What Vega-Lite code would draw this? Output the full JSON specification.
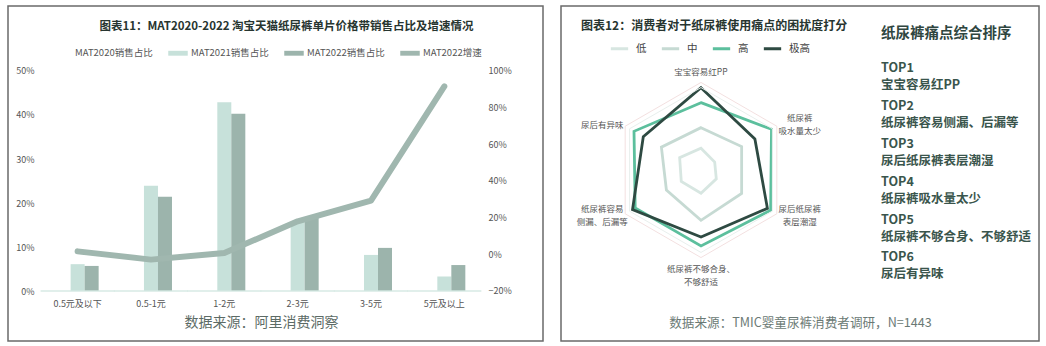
{
  "$schema": "https://vega.github.io/schema/vega-lite/v6.json",
  "padding": {"left": 7, "top": 5, "right": 0, "bottom": 0},
  "background": "white",
  "spacing": 16,
  "resolve": {"scale": {"color": "independent"}, "legend": {"color": "independent"}},
  "config": {
    "font": "Noto Sans CJK SC",
    "view": {"stroke": "#6a6a6a", "strokeWidth": 1.5},
    "axis": {"labelFont": "Noto Sans CJK SC", "titleFont": "Noto Sans CJK SC", "grid": false},
    "legend": {"labelFont": "Noto Sans CJK SC"},
    "title": {"font": "Noto Sans CJK SC"},
    "text": {"font": "Noto Sans CJK SC"}
  },
  "datasets": {
    "share": [
      {"series": "MAT2021销售占比", "cat": "0.5元及以下", "share": 0.061},
      {"series": "MAT2021销售占比", "cat": "0.5-1元", "share": 0.239},
      {"series": "MAT2021销售占比", "cat": "1-2元", "share": 0.429},
      {"series": "MAT2021销售占比", "cat": "2-3元", "share": 0.157},
      {"series": "MAT2021销售占比", "cat": "3-5元", "share": 0.082},
      {"series": "MAT2021销售占比", "cat": "5元及以上", "share": 0.033},
      {"series": "MAT2022销售占比", "cat": "0.5元及以下", "share": 0.057},
      {"series": "MAT2022销售占比", "cat": "0.5-1元", "share": 0.214},
      {"series": "MAT2022销售占比", "cat": "1-2元", "share": 0.403},
      {"series": "MAT2022销售占比", "cat": "2-3元", "share": 0.168},
      {"series": "MAT2022销售占比", "cat": "3-5元", "share": 0.098},
      {"series": "MAT2022销售占比", "cat": "5元及以上", "share": 0.059}
    ],
    "growth": [
      {"cat": "0.5元及以下", "growth": 0.016},
      {"cat": "0.5-1元", "growth": -0.029},
      {"cat": "1-2元", "growth": 0.007},
      {"cat": "2-3元", "growth": 0.18},
      {"cat": "3-5元", "growth": 0.293},
      {"cat": "5元及以上", "growth": 0.916}
    ],
    "radar": [
      {"series": "低", "i": 0, "score": 1.28},
      {"series": "低", "i": 1, "score": 0.93},
      {"series": "低", "i": 2, "score": 1.04},
      {"series": "低", "i": 3, "score": 1.37},
      {"series": "低", "i": 4, "score": 1.34},
      {"series": "低", "i": 5, "score": 1.45},
      {"series": "中", "i": 0, "score": 2.49},
      {"series": "中", "i": 1, "score": 2.76},
      {"series": "中", "i": 2, "score": 2.76},
      {"series": "中", "i": 3, "score": 2.96},
      {"series": "中", "i": 4, "score": 2.35},
      {"series": "中", "i": 5, "score": 2.69},
      {"series": "高", "i": 0, "score": 3.96},
      {"series": "高", "i": 1, "score": 4.79},
      {"series": "高", "i": 2, "score": 4.73},
      {"series": "高", "i": 3, "score": 4.47},
      {"series": "高", "i": 4, "score": 4.47},
      {"series": "高", "i": 5, "score": 4.55},
      {"series": "极高", "i": 0, "score": 4.84},
      {"series": "极高", "i": 1, "score": 3.66},
      {"series": "极高", "i": 2, "score": 4.51},
      {"series": "极高", "i": 3, "score": 3.94},
      {"series": "极高", "i": 4, "score": 4.65},
      {"series": "极高", "i": 5, "score": 3.92}
    ],
    "grid": [
      {"level": "outer", "i": 0, "score": 5.15},
      {"level": "outer", "i": 1, "score": 5.15},
      {"level": "outer", "i": 2, "score": 5.15},
      {"level": "outer", "i": 3, "score": 5.15},
      {"level": "outer", "i": 4, "score": 5.15},
      {"level": "outer", "i": 5, "score": 5.15},
      {"level": "inner", "i": 0, "score": 4.85},
      {"level": "inner", "i": 1, "score": 4.85},
      {"level": "inner", "i": 2, "score": 4.85},
      {"level": "inner", "i": 3, "score": 4.85},
      {"level": "inner", "i": 4, "score": 4.85},
      {"level": "inner", "i": 5, "score": 4.85}
    ],
    "axes": [
      {"i": 0, "label": "宝宝容易红PP"},
      {"i": 1, "label": "纸尿裤\n吸水量太少"},
      {"i": 2, "label": "尿后纸尿裤\n表层潮湿"},
      {"i": 3, "label": "纸尿裤不够合身、\n不够舒适"},
      {"i": 4, "label": "纸尿裤容易\n侧漏、后漏等"},
      {"i": 5, "label": "尿后有异味"}
    ],
    "heading": [{"text": "纸尿裤痛点综合排序"}],
    "rank": [
      {"rank": 1, "item": "宝宝容易红PP"},
      {"rank": 2, "item": "纸尿裤容易侧漏、后漏等"},
      {"rank": 3, "item": "尿后纸尿裤表层潮湿"},
      {"rank": 4, "item": "纸尿裤吸水量太少"},
      {"rank": 5, "item": "纸尿裤不够合身、不够舒适"},
      {"rank": 6, "item": "尿后有异味"}
    ]
  },
  "hconcat": [
    {
      "width": 535,
      "height": 335,
      "title": {
        "text": "图表11：MAT2020-2022 淘宝天猫纸尿裤单片价格带销售占比及增速情况",
        "frame": "group", "anchor": "middle", "offset": -26, "dx": 11,
        "fontSize": 11.5, "fontWeight": "bold", "color": "#273530"
      },
      "layer": [
        {
          "data": {"name": "share"},
          "mark": {"type": "bar"},
          "encoding": {
            "x": {"field": "cat", "type": "nominal",
              "scale": {"domain": ["0.5元及以下", "0.5-1元", "1-2元", "2-3元", "3-5元", "5元及以上"], "paddingInner": 0.427, "paddingOuter": 0.861, "align": 0.385},
              "axis": {"orient": "bottom", "offset": -50, "domain": false, "ticks": false, "labelAngle": 0,
                "labelFontSize": 9, "labelColor": "#555555", "labelPadding": 8,
                "title": "数据来源：阿里消费洞察", "titleFontSize": 14, "titleFontWeight": "normal",
                "titleColor": "#5c6b66", "titlePadding": 7, "titleX": 253}},
            "xOffset": {"field": "series", "type": "nominal",
              "scale": {"domain": ["MAT2020销售占比", "MAT2021销售占比", "MAT2022销售占比"], "paddingInner": 0, "paddingOuter": 0}},
            "y": {"field": "share", "type": "quantitative",
              "scale": {"domain": [-0.1136, 0.6477], "nice": false, "zero": false},
              "axis": {"orient": "left", "offset": -30, "values": [0, 0.1, 0.2, 0.3, 0.4, 0.5], "format": ".0%",
                "domain": false, "ticks": false, "labelFontSize": 9, "labelColor": "#555555", "labelPadding": 4, "title": null}},
            "color": {"field": "series", "type": "nominal",
              "scale": {"domain": ["MAT2020销售占比", "MAT2021销售占比", "MAT2022销售占比", "MAT2022增速"],
                "range": ["#ffffff", "#c7e1da", "#9cb4ac", "#a0b7af"]},
              "legend": {"orient": "none", "legendX": 44, "legendY": 37, "direction": "horizontal", "title": null,
                "symbolType": "M-1,-0.25H1V0.25H-1Z", "symbolSize": 380, "symbolStrokeWidth": 0,
                "labelFontSize": 9.5, "labelColor": "#555555", "columnPadding": 15, "labelOffset": 3, "padding": 0, "labelLimit": 200}}
          }
        },
        {
          "data": {"name": "growth"},
          "mark": {"type": "tick", "size": 74, "thickness": 2, "color": "#d4e8e2"},
          "encoding": {
            "x": {"field": "cat", "type": "nominal",
              "scale": {"domain": ["0.5元及以下", "0.5-1元", "1-2元", "2-3元", "3-5元", "5元及以上"], "paddingInner": 0.427, "paddingOuter": 0.861, "align": 0.385},
              "axis": {"orient": "bottom", "offset": -50, "domain": false, "ticks": false, "labelAngle": 0,
                "labelFontSize": 9, "labelColor": "#555555", "labelPadding": 8,
                "title": "数据来源：阿里消费洞察", "titleFontSize": 14, "titleFontWeight": "normal",
                "titleColor": "#5c6b66", "titlePadding": 7, "titleX": 253}},
            "y": {"datum": 0, "type": "quantitative",
              "scale": {"domain": [-0.1136, 0.6477], "nice": false, "zero": false},
              "axis": null}
          }
        },
        {
          "data": {"name": "growth"},
          "mark": {"type": "line", "strokeWidth": 6, "strokeCap": "round", "strokeJoin": "round", "color": "#a0b7af"},
          "encoding": {
            "x": {"field": "cat", "type": "nominal",
              "scale": {"domain": ["0.5元及以下", "0.5-1元", "1-2元", "2-3元", "3-5元", "5元及以上"], "paddingInner": 0.427, "paddingOuter": 0.861, "align": 0.385},
              "axis": {"orient": "bottom", "offset": -50, "domain": false, "ticks": false, "labelAngle": 0,
                "labelFontSize": 9, "labelColor": "#555555", "labelPadding": 8,
                "title": "数据来源：阿里消费洞察", "titleFontSize": 14, "titleFontWeight": "normal",
                "titleColor": "#5c6b66", "titlePadding": 7, "titleX": 253}},
            "y": {"field": "growth", "type": "quantitative",
              "scale": {"domain": [-0.473, 1.3546], "nice": false, "zero": false},
              "axis": {"orient": "right", "offset": -59, "values": [-0.2, 0, 0.2, 0.4, 0.6, 0.8, 1.0], "format": ".0%",
                "domain": false, "ticks": false, "labelFontSize": 9, "labelColor": "#555555", "labelPadding": 4, "title": null}}
          }
        }
      ],
      "resolve": {"scale": {"y": "independent"}}
    },
    {
      "width": 478,
      "height": 335,
      "title": {
        "text": "图表12：消费者对于纸尿裤使用痛点的困扰度打分",
        "frame": "group", "anchor": "start", "offset": -27, "dx": 20,
        "fontSize": 12, "fontWeight": "bold", "color": "#273530"
      },
      "layer": [
        {
          "data": {"name": "radar"},
          "transform": [
            {"calculate": "datum.i * PI / 3", "as": "t"},
            {"calculate": "datum.score * sin(datum.t)", "as": "px"},
            {"calculate": "datum.score * cos(datum.t)", "as": "py"}
          ],
          "mark": {"type": "line", "interpolate": "linear-closed", "strokeWidth": 2.8, "strokeJoin": "miter"},
          "encoding": {
            "x": {"field": "px", "type": "quantitative", "scale": {"domain": [-8.235, 19.882], "nice": false, "zero": false},
              "axis": {"orient": "bottom", "offset": -25, "domain": false, "ticks": false, "labels": false, "grid": false,
                "title": "数据来源：TMIC婴童尿裤消费者调研，N=1443", "titleFontSize": 12.6, "titleFontWeight": "normal",
                "titleColor": "#6b7a75", "titlePadding": 0}},
            "y": {"field": "py", "type": "quantitative", "scale": {"domain": [-10.059, 9.647], "nice": false, "zero": false}, "axis": null},
            "color": {"field": "series", "type": "nominal",
              "scale": {"domain": ["低", "中", "高", "极高"], "range": ["#d7e6e1", "#c6dad3", "#5cbf9d", "#2e4a42"]},
              "legend": {"orient": "none", "legendX": 48, "legendY": 32, "direction": "horizontal", "title": null,
                "symbolType": "stroke", "symbolSize": 300, "symbolStrokeWidth": 3,
                "labelFontSize": 10.5, "labelColor": "#444444", "columnPadding": 8, "labelOffset": 6, "padding": 0}},
            "order": {"field": "i"}
          }
        },
        {
          "data": {"name": "grid"},
          "transform": [
            {"filter": "datum.level === 'outer'"},
            {"calculate": "datum.i * PI / 3", "as": "t"},
            {"calculate": "datum.score * sin(datum.t)", "as": "px"},
            {"calculate": "datum.score * cos(datum.t)", "as": "py"}
          ],
          "mark": {"type": "line", "interpolate": "linear-closed", "strokeWidth": 1, "color": "#f3e0e0"},
          "encoding": {
            "x": {"field": "px", "type": "quantitative", "scale": {"domain": [-8.235, 19.882], "nice": false, "zero": false},
              "axis": {"orient": "bottom", "offset": -25, "domain": false, "ticks": false, "labels": false, "grid": false,
                "title": "数据来源：TMIC婴童尿裤消费者调研，N=1443", "titleFontSize": 12.6, "titleFontWeight": "normal",
                "titleColor": "#6b7a75", "titlePadding": 0}},
            "y": {"field": "py", "type": "quantitative", "scale": {"domain": [-10.059, 9.647], "nice": false, "zero": false}, "axis": null},
            "order": {"field": "i"}
          }
        },
        {
          "data": {"name": "grid"},
          "transform": [
            {"filter": "datum.level === 'inner'"},
            {"calculate": "datum.i * PI / 3", "as": "t"},
            {"calculate": "datum.score * sin(datum.t)", "as": "px"},
            {"calculate": "datum.score * cos(datum.t)", "as": "py"}
          ],
          "mark": {"type": "line", "interpolate": "linear-closed", "strokeWidth": 1, "color": "#e9efed"},
          "encoding": {
            "x": {"field": "px", "type": "quantitative", "scale": {"domain": [-8.235, 19.882], "nice": false, "zero": false},
              "axis": {"orient": "bottom", "offset": -25, "domain": false, "ticks": false, "labels": false, "grid": false,
                "title": "数据来源：TMIC婴童尿裤消费者调研，N=1443", "titleFontSize": 12.6, "titleFontWeight": "normal",
                "titleColor": "#6b7a75", "titlePadding": 0}},
            "y": {"field": "py", "type": "quantitative", "scale": {"domain": [-10.059, 9.647], "nice": false, "zero": false}, "axis": null},
            "order": {"field": "i"}
          }
        },
        {
          "data": {"name": "axes"},
          "transform": [
            {"calculate": "datum.i * PI / 3", "as": "t"},
            {"calculate": "sin(datum.t) * 6.7", "as": "lx"},
            {"calculate": "cos(datum.t) * (cos(datum.t) < -0.9 ? 6.2 : (cos(datum.t) > 0.9 ? 5.75 : 5.3)) + (indexof(datum.label, '\\n') >= 0 ? 0.38 : 0)", "as": "ly"}
          ],
          "mark": {"type": "text", "fontSize": 8.5, "color": "#555555", "lineBreak": "\n", "lineHeight": 13, "align": "center", "baseline": "middle"},
          "encoding": {
            "x": {"field": "lx", "type": "quantitative", "scale": {"domain": [-8.235, 19.882], "nice": false, "zero": false},
              "axis": {"orient": "bottom", "offset": -25, "domain": false, "ticks": false, "labels": false, "grid": false,
                "title": "数据来源：TMIC婴童尿裤消费者调研，N=1443", "titleFontSize": 12.6, "titleFontWeight": "normal",
                "titleColor": "#6b7a75", "titlePadding": 0}},
            "y": {"field": "ly", "type": "quantitative", "scale": {"domain": [-10.059, 9.647], "nice": false, "zero": false}, "axis": null},
            "text": {"field": "label"}
          }
        },
        {
          "data": {"name": "heading"},
          "mark": {"type": "text", "fontSize": 14.5, "fontWeight": "bold", "color": "#2f463f", "align": "left", "baseline": "middle"},
          "encoding": {
            "x": {"datum": 10.588, "type": "quantitative", "scale": {"domain": [-8.235, 19.882], "nice": false, "zero": false},
              "axis": {"orient": "bottom", "offset": -25, "domain": false, "ticks": false, "labels": false, "grid": false,
                "title": "数据来源：TMIC婴童尿裤消费者调研，N=1443", "titleFontSize": 12.6, "titleFontWeight": "normal",
                "titleColor": "#6b7a75", "titlePadding": 0}},
            "y": {"datum": -0.121, "type": "quantitative", "scale": {"domain": [-0.86, 7.979], "nice": false, "zero": false, "reverse": true}, "axis": null},
            "text": {"field": "text"}
          }
        },
        {
          "data": {"name": "rank"},
          "transform": [{"calculate": "'TOP' + datum.rank", "as": "top"}],
          "mark": {"type": "text", "fontSize": 12.5, "fontWeight": "bold", "color": "#3a554c", "align": "left", "baseline": "middle", "dy": -8.5},
          "encoding": {
            "x": {"datum": 10.588, "type": "quantitative", "scale": {"domain": [-8.235, 19.882], "nice": false, "zero": false},
              "axis": {"orient": "bottom", "offset": -25, "domain": false, "ticks": false, "labels": false, "grid": false,
                "title": "数据来源：TMIC婴童尿裤消费者调研，N=1443", "titleFontSize": 12.6, "titleFontWeight": "normal",
                "titleColor": "#6b7a75", "titlePadding": 0}},
            "y": {"field": "rank", "type": "quantitative", "scale": {"domain": [-0.86, 7.979], "nice": false, "zero": false, "reverse": true}, "axis": null},
            "text": {"field": "top"}
          }
        },
        {
          "data": {"name": "rank"},
          "mark": {"type": "text", "fontSize": 12.5, "fontWeight": "bold", "color": "#3a554c", "align": "left", "baseline": "middle", "dy": 8.5},
          "encoding": {
            "x": {"datum": 10.588, "type": "quantitative", "scale": {"domain": [-8.235, 19.882], "nice": false, "zero": false},
              "axis": {"orient": "bottom", "offset": -25, "domain": false, "ticks": false, "labels": false, "grid": false,
                "title": "数据来源：TMIC婴童尿裤消费者调研，N=1443", "titleFontSize": 12.6, "titleFontWeight": "normal",
                "titleColor": "#6b7a75", "titlePadding": 0}},
            "y": {"field": "rank", "type": "quantitative", "scale": {"domain": [-0.86, 7.979], "nice": false, "zero": false, "reverse": true}, "axis": null},
            "text": {"field": "item"}
          }
        }
      ],
      "resolve": {"scale": {"y": "independent"}}
    }
  ]
}
